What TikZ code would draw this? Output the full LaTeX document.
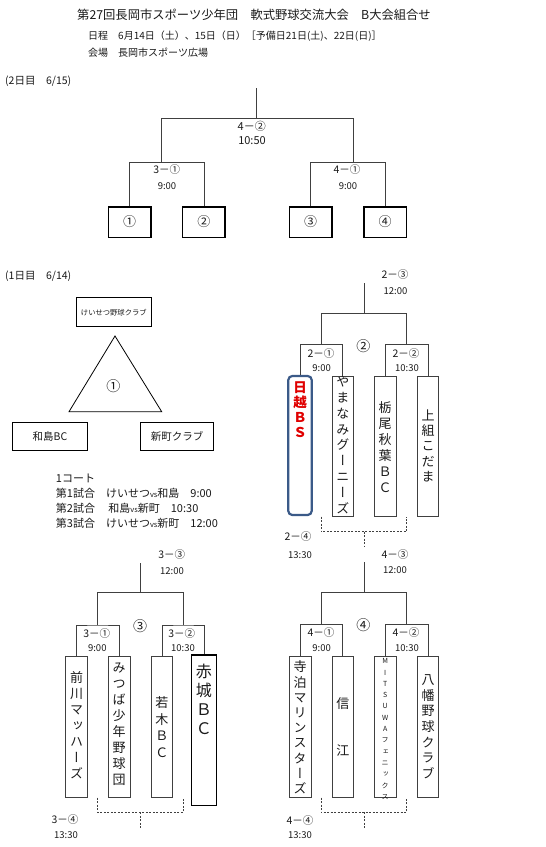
\documentclass[tikz,border=0pt]{standalone}
\usepackage{fontspec}
\setmainfont{Noto Sans CJK JP}
\newfontfamily\vjp[RawFeature=+vert]{Noto Sans CJK JP}
\definecolor{ln}{HTML}{404040}
\definecolor{txt}{HTML}{1A1A1A}
\definecolor{bsblue}{HTML}{3B5A88}
\definecolor{bsred}{HTML}{E00000}
\begin{document}
\begin{tikzpicture}[x=1pt,y=-1pt,
 line/.style={draw=ln, line width=0.8pt},
 dline/.style={draw=ln, line width=0.7pt, dash pattern=on 2pt off 1.5pt},
 bigbox/.style={draw=black, line width=1.5pt, minimum width=42.5pt, minimum height=30.5pt, inner sep=0pt, font=\fontsize{13}{13}\selectfont, text=txt},
 daybox/.style={draw=black, line width=0.8pt, inner sep=0pt, text=txt},
 teambox/.style={draw=ln, line width=0.9pt, inner sep=0pt, minimum width=21.5pt, minimum height=141.3pt},
 vt/.style={align=center, inner sep=0pt, text=txt},
 lbl/.style={font=\fontsize{10.5}{12}\selectfont, text=txt, inner sep=0pt},
 tm/.style={font=\fontsize{9.5}{11}\selectfont, text=txt, inner sep=0pt},
 hd/.style={anchor=west, inner sep=0pt, text=txt},
 ]
\useasboundingbox[fill=white] (0,0) rectangle (546,847);

% ---------- header ----------
\node[hd, font=\fontsize{12.3}{14}\selectfont] (title) at (77,15) {第27回長岡市スポーツ少年団　軟式野球交流大会　B大会組合せ};
\node[hd, font=\fontsize{10}{12}\selectfont] (sched) at (88,36) {日程　6月14日（土）、15日（日）［予備日21日(土)、22日(日)］};
\node[hd, font=\fontsize{10}{12}\selectfont] (venue) at (88,53) {会場　長岡市スポーツ広場};
\node[hd, font=\fontsize{10.5}{12}\selectfont] (day2) at (5,81.5) {(2日目　6/15)};

% ---------- day 2 bracket ----------
\node[bigbox] (t1) at (129.7,222) {①};
\node[bigbox] (t2) at (203.9,222) {②};
\node[bigbox] (t3) at (310.5,222) {③};
\node[bigbox] (t4) at (385,222) {④};
\coordinate (j1) at (161.7,162.3);
\coordinate (j2) at (353.3,162.3);
\coordinate (jt) at (256.7,118.3);
\coordinate (jtop) at (256.7,88);
\draw[line] (t1.north) |- (j1) -| (t2.north);
\draw[line] (t3.north) |- (j2) -| (t4.north);
\draw[line] (j1) |- (jt) -| (j2);
\draw[line] (jt) -- (jtop);
\node[font=\fontsize{11}{12}\selectfont, text=txt, inner sep=0pt] (l42) at (251.7,126.7) {4－②};
\node[font=\fontsize{11}{12}\selectfont, text=txt, inner sep=0pt] (l42t) at (252,141) {10:50};
\node[lbl] (l31) at (166.7,170) {3－①};
\node[tm] (l31t) at (167,186) {9:00};
\node[lbl] (l41) at (347,170) {4－①};
\node[tm] (l41t) at (348,186) {9:00};

% ---------- day 1 : group 1 ----------
\node[hd, font=\fontsize{10.5}{12}\selectfont] (day1) at (5,276.7) {(1日目　6/14)};
\node[daybox, minimum width=74.3pt, minimum height=29pt, font=\fontsize{7.3}{8}\selectfont] (kc) at (113.8,312.2) {けいせつ野球クラブ};
\coordinate (ta) at (115,336);
\coordinate (tl) at (69,411.7);
\coordinate (tr) at (161.7,411.7);
\draw[line, draw=black] (ta) -- (tl) -- (tr) -- cycle;
\node[font=\fontsize{14}{14}\selectfont, text=txt, inner sep=0pt] (g1) at (113.3,385.7) {①};
\node[daybox, minimum width=74.6pt, minimum height=27.3pt, font=\fontsize{10.5}{12}\selectfont] (wj) at (50,436.3) {和島BC};
\node[daybox, minimum width=72.6pt, minimum height=27.3pt, font=\fontsize{10.5}{12}\selectfont] (sm) at (177,436.3) {新町クラブ};
\node[anchor=west, align=left, inner sep=0pt, text=txt, font=\fontsize{11}{14.8}\selectfont] (court) at (55.7,501.2)
 {1コート\\第1試合　けいせつ{\fontsize{7.5}{8}\selectfont vs}和島　9:00\\第2試合　 和島{\fontsize{7.5}{8}\selectfont vs}新町　10:30\\第3試合　けいせつ{\fontsize{7.5}{8}\selectfont vs}新町　12:00};

% ---------- group 2 ----------
\node[teambox, draw=bsblue, line width=2.2pt, rounded corners=4pt, minimum width=23.4pt, minimum height=139pt] (b21) at (300,445.5) {};
\node[teambox, minimum height=140pt, minimum width=21pt] (b22) at (342.8,446) {};
\node[teambox, minimum height=140pt, minimum width=21.7pt] (b23) at (385.2,446) {};
\node[teambox, minimum height=140pt, minimum width=20.6pt] (b24) at (428,446) {};
\node[vt, text=bsred, font=\vjp\bfseries\fontsize{13.5}{15.2}\selectfont] (n21) at (300,409.5) {日\\越\\Ｂ\\Ｓ};
\node[vt, font=\vjp\fontsize{13}{15.8}\selectfont] (n22) at (342.8,444.9) {や\\ま\\な\\み\\グ\\ー\\ニ\\ー\\ズ};
\node[vt, font=\vjp\fontsize{13}{16}\selectfont] (n23) at (385.2,446.7) {栃\\尾\\秋\\葉\\Ｂ\\Ｃ};
\node[vt, font=\vjp\fontsize{13}{15.4}\selectfont] (n24) at (428,445.8) {上\\組\\こ\\だ\\ま};
\coordinate (j21) at (321,344.3);
\coordinate (j22) at (406.7,344.3);
\coordinate (j2t) at (364.3,313.3);
\coordinate (j2top) at (364.3,282.7);
\draw[line] (b21.north) |- (j21) -| (b22.north);
\draw[line] (b23.north) |- (j22) -| (b24.north);
\draw[line] (j21) |- (j2t) -| (j22);
\draw[line] (j2t) -- (j2top);
\coordinate (d21) at (321,516.5);
\coordinate (d22) at (406.7,516.5);
\coordinate (d2m) at (364.3,531.7);
\coordinate (d2b) at (364.3,546);
\draw[dline] (d21) |- (d2m) -| (d22);
\draw[dline] (d2m) -- (d2b);
\node[lbl] (l23) at (395,275) {2－③};
\node[tm] (l23t) at (395.5,290.7) {12:00};
\node[lbl] (l21) at (321,353.3) {2－①};
\node[tm] (l21t) at (321.7,368.3) {9:00};
\node[lbl] (l22) at (406,353.3) {2－②};
\node[tm] (l22t) at (407,368.3) {10:30};
\node[font=\fontsize{14}{14}\selectfont, text=txt, inner sep=0pt] (g2) at (363.3,346) {②};
\node[lbl] (l24) at (298,536.7) {2－④};
\node[tm] (l24t) at (300,555) {13:30};

% ---------- group 3 ----------
\node[teambox] (b31) at (76.5,726.7) {};
\node[teambox] (b32) at (119.2,726.7) {};
\node[teambox] (b33) at (161.9,726.7) {};
\node[teambox, draw=black, line width=1.1pt, minimum width=24.3pt, minimum height=150.7pt] (b34) at (203.9,730.3) {};
\node[vt, font=\vjp\fontsize{13}{16.1}\selectfont] (n31) at (76.5,725) {前\\川\\マ\\ッ\\ハ\\ー\\ズ};
\node[vt, font=\vjp\fontsize{13}{16}\selectfont] (n32) at (119.2,724.2) {み\\つ\\ば\\少\\年\\野\\球\\団};
\node[vt, font=\vjp\fontsize{13}{16.5}\selectfont] (n33) at (161.9,727) {若\\木\\Ｂ\\Ｃ};
\node[vt, font=\vjp\fontsize{16}{19.1}\selectfont] (n34) at (203.9,699.7) {赤\\城\\Ｂ\\Ｃ};
\coordinate (j31) at (97.7,625);
\coordinate (j32) at (183.3,625);
\coordinate (j3t) at (140,592.7);
\coordinate (j3top) at (140,562.7);
\draw[line] (b31.north) |- (j31) -| (b32.north);
\draw[line] (b33.north) |- (j32) -| (b34.north);
\draw[line] (j31) |- (j3t) -| (j32);
\draw[line] (j3t) -- (j3top);
\coordinate (d31) at (97.7,797.5);
\coordinate (d32) at (183.3,797.5);
\coordinate (d3m) at (140,812.3);
\coordinate (d3b) at (140,829.3);
\draw[dline] (d31) |- (d3m) -| (d32);
\draw[dline] (d3m) -- (d3b);
\node[lbl] (l33) at (171.7,554.3) {3－③};
\node[tm] (l33t) at (172,570.7) {12:00};
\node[lbl] (l31b) at (96.7,633.3) {3－①};
\node[tm] (l31bt) at (97.3,647.7) {9:00};
\node[lbl] (l32) at (181.7,633.3) {3－②};
\node[tm] (l32t) at (183,647.7) {10:30};
\node[font=\fontsize{14}{14}\selectfont, text=txt, inner sep=0pt] (g3) at (140,626) {③};
\node[lbl] (l34) at (65,819.3) {3－④};
\node[tm] (l34t) at (66,835) {13:30};

% ---------- group 4 ----------
\node[teambox] (b41) at (300.2,726.7) {};
\node[teambox, minimum width=21pt] (b42) at (342.8,726.7) {};
\node[teambox] (b43) at (385.2,726.7) {};
\node[teambox, minimum width=20.6pt] (b44) at (428,726.7) {};
\node[vt, font=\vjp\fontsize{13}{15.2}\selectfont] (n41) at (300.2,727.5) {寺\\泊\\マ\\リ\\ン\\ス\\タ\\ー\\ズ};
\node[vt, font=\vjp\fontsize{13}{47}\selectfont] (n42) at (342.8,726.5) {信\\江};
\node[vt, font=\vjp\fontsize{7}{11.3}\selectfont] (n43) at (385.2,729) {M\\I\\T\\S\\U\\W\\A\\フ\\ェ\\ニ\\ッ\\ク\\ス};
\node[vt, font=\vjp\fontsize{13}{15.6}\selectfont] (n44) at (428,726.7) {八\\幡\\野\\球\\ク\\ラ\\ブ};
\coordinate (j41) at (321,624.3);
\coordinate (j42) at (406.7,624.3);
\coordinate (j4t) at (364.3,592.7);
\coordinate (j4top) at (364.3,561.7);
\draw[line] (b41.north) |- (j41) -| (b42.north);
\draw[line] (b43.north) |- (j42) -| (b44.north);
\draw[line] (j41) |- (j4t) -| (j42);
\draw[line] (j4t) -- (j4top);
\coordinate (d41) at (321,797.5);
\coordinate (d42) at (406.7,797.5);
\coordinate (d4m) at (364.3,812.3);
\coordinate (d4b) at (364.3,828);
\draw[dline] (d41) |- (d4m) -| (d42);
\draw[dline] (d4m) -- (d4b);
\node[lbl] (l43) at (395,555) {4－③};
\node[tm] (l43t) at (395,570) {12:00};
\node[lbl] (l41b) at (321,632.7) {4－①};
\node[tm] (l41bt) at (321.7,647.7) {9:00};
\node[lbl] (l42b) at (406,632.7) {4－②};
\node[tm] (l42bt) at (407,647.7) {10:30};
\node[font=\fontsize{14}{14}\selectfont, text=txt, inner sep=0pt] (g4) at (363.3,625) {④};
\node[lbl] (l44) at (300,820) {4－④};
\node[tm] (l44t) at (300,835) {13:30};
\end{tikzpicture}
\end{document}
